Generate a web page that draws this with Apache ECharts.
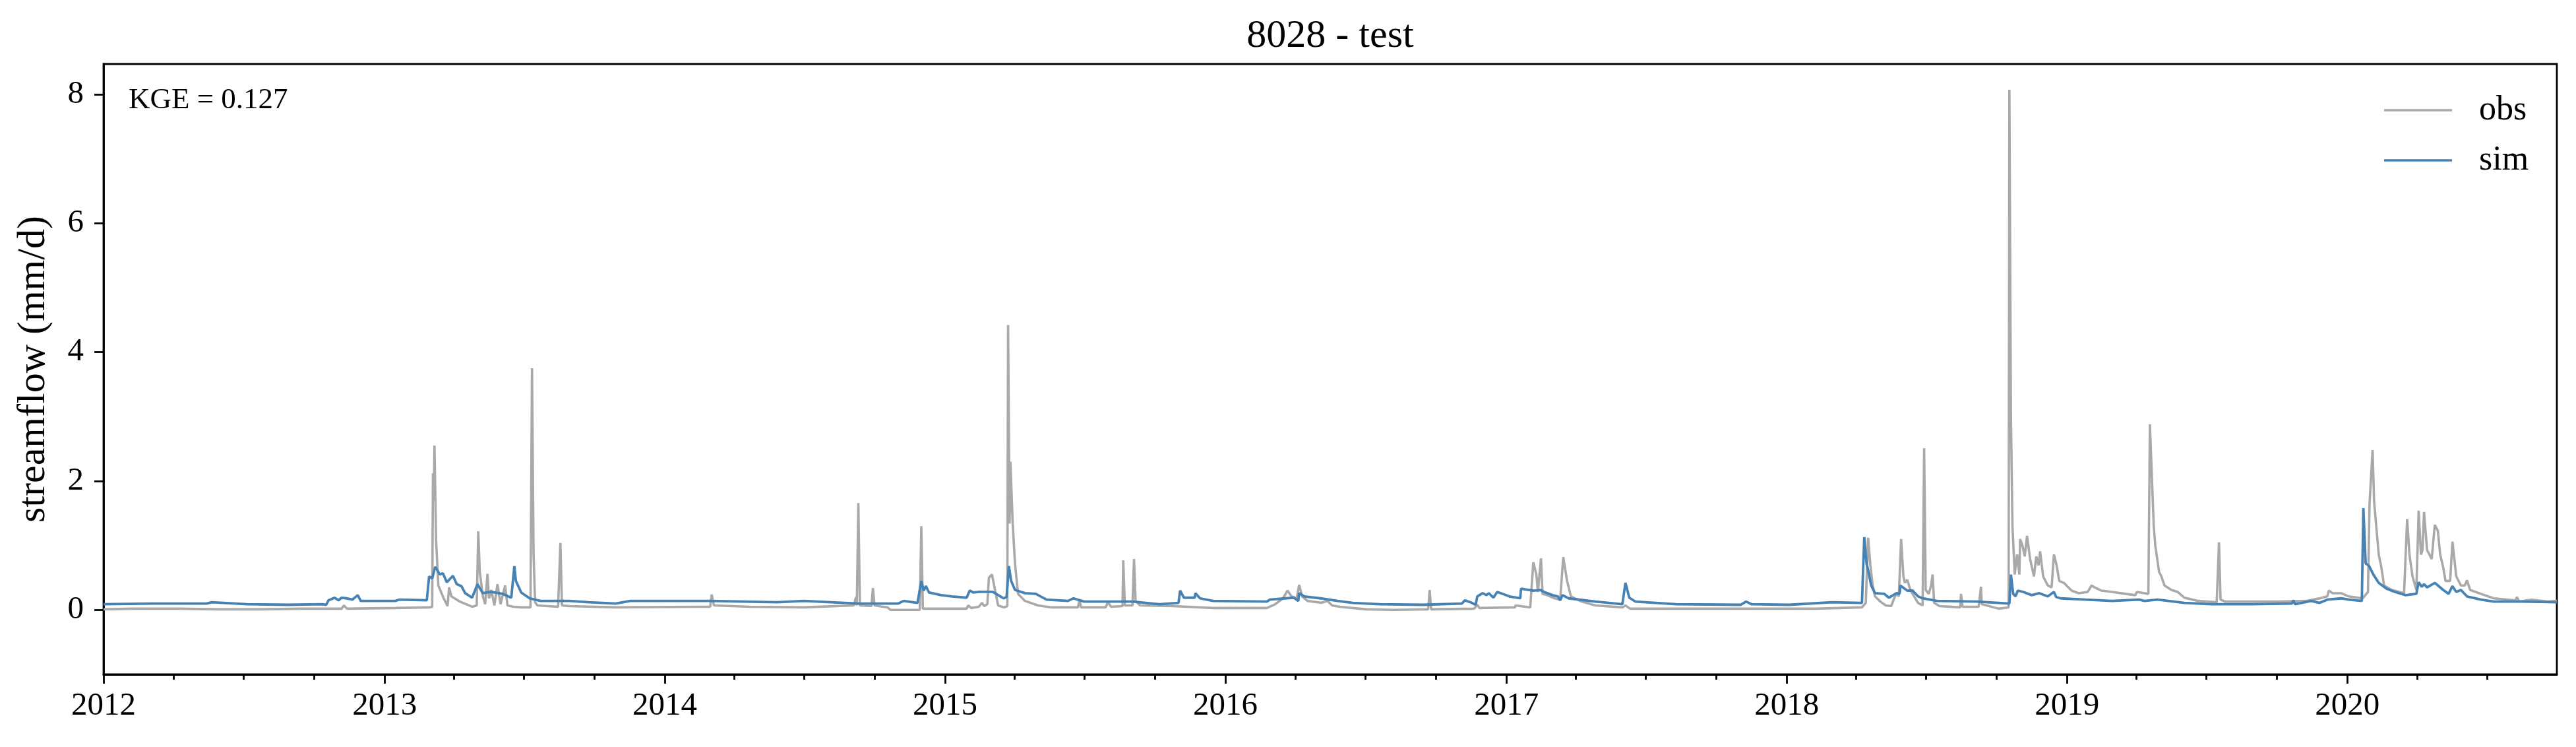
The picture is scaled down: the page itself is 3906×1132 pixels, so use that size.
<!DOCTYPE html>
<html>
<head>
<meta charset="utf-8">
<title>8028 - test</title>
<script src="https://cdn.jsdelivr.net/npm/echarts@6/dist/echarts.min.js"></script>
<style>
html, body { margin: 0; padding: 0; background: #fff; }
#main { width: 3906px; height: 1132px; }
</style>
</head>
<body>
<div id="main"></div>
<script>
// 日数は 2012-01-01 からの経過日数
var yearTicks = [2012, 2013, 2014, 2015, 2016, 2017, 2018, 2019, 2020];
var quarterMonths = [3, 6, 9];
var yTicks = [0, 2, 4, 6, 8];
var kgeText = 'KGE = 0.127';

var obsPts = [
  [0,0.01],[40,0.02],[96,0.02],[150,0.01],[204,0.01],[260,0.02],[310,0.02],[313,0.07],[317,0.02],[380,0.03],
  [425,0.04],[428,0.05],[429,2.12],[430,1.7],[431,2.55],[433,1.1],[436,0.38],[443,0.18],[448,0.06],[450,0.35],
  [453,0.21],[464,0.13],[480,0.05],[486,0.07],[488,1.22],[490,0.59],[494,0.21],[497,0.09],[500,0.56],[502,0.18],
  [505,0.31],[509,0.07],[513,0.40],[517,0.09],[523,0.38],[526,0.07],[534,0.05],[544,0.04],[556,0.04],[558,3.75],
  [560,0.88],[562,0.12],[565,0.07],[592,0.05],[595,1.04],[597,0.07],[607,0.06],[667,0.04],[772,0.05],[790,0.05],
  [792,0.24],[795,0.07],[842,0.05],[912,0.04],[977,0.07],[980,0.2],[981,0.07],[983,1.66],[985,0.07],[1000,0.06],
  [1002,0.34],[1004,0.07],[1021,0.04],[1025,0.0],[1063,0.0],[1065,1.30],[1067,0.02],[1124,0.02],[1126,0.07],[1130,0.03],
  [1140,0.05],[1144,0.11],[1147,0.06],[1151,0.09],[1153,0.5],[1157,0.55],[1161,0.31],[1165,0.07],[1173,0.04],[1177,0.06],
  [1178,4.42],[1180,1.34],[1181,2.30],[1184,1.34],[1187,0.72],[1191,0.25],[1200,0.14],[1217,0.07],[1235,0.04],[1269,0.04],
  [1271,0.16],[1273,0.04],[1305,0.04],[1308,0.12],[1312,0.05],[1327,0.06],[1328,0.77],[1330,0.07],[1340,0.07],[1342,0.79],
  [1344,0.14],[1350,0.07],[1393,0.06],[1445,0.03],[1515,0.03],[1526,0.09],[1536,0.18],[1542,0.30],[1547,0.21],[1554,0.18],
  [1557,0.39],[1561,0.21],[1568,0.14],[1586,0.11],[1594,0.14],[1600,0.07],[1610,0.05],[1645,0.01],[1680,0.0],[1725,0.01],
  [1727,0.31],[1729,0.01],[1785,0.02],[1789,0.08],[1792,0.03],[1838,0.04],[1839,0.07],[1858,0.04],[1862,0.74],[1866,0.55],
  [1868,0.28],[1872,0.80],[1874,0.25],[1880,0.23],[1890,0.18],[1897,0.16],[1901,0.82],[1906,0.45],[1911,0.21],[1925,0.13],
  [1943,0.07],[1978,0.04],[1982,0.07],[1988,0.02],[2139,0.02],[2195,0.02],[2230,0.02],[2290,0.04],[2295,0.11],[2298,1.12],
  [2301,0.69],[2304,0.38],[2307,0.21],[2314,0.13],[2321,0.07],[2328,0.06],[2332,0.18],[2335,0.26],[2338,0.21],[2341,1.10],
  [2344,0.52],[2346,0.42],[2349,0.47],[2353,0.31],[2363,0.11],[2369,0.07],[2371,2.51],[2373,0.31],[2377,0.25],[2380,0.38],
  [2382,0.55],[2384,0.11],[2391,0.06],[2418,0.04],[2419,0.25],[2421,0.05],[2442,0.05],[2445,0.36],[2446,0.09],[2468,0.02],
  [2481,0.04],[2482,8.07],[2484,3.0],[2486,1.3],[2489,0.55],[2492,0.86],[2495,0.55],[2496,1.10],[2499,1.0],[2502,0.83],
  [2505,1.15],[2509,0.79],[2514,0.52],[2517,0.83],[2520,0.69],[2522,0.91],[2526,0.52],[2532,0.38],[2537,0.35],[2540,0.86],
  [2543,0.72],[2547,0.45],[2553,0.42],[2563,0.30],[2572,0.26],[2584,0.28],[2589,0.38],[2593,0.35],[2602,0.30],[2616,0.28],
  [2633,0.25],[2646,0.23],[2648,0.28],[2663,0.25],[2665,2.88],[2670,1.30],[2672,1.0],[2677,0.59],[2680,0.52],[2684,0.38],
  [2693,0.31],[2701,0.28],[2710,0.19],[2728,0.14],[2752,0.12],[2755,1.05],[2757,0.16],[2763,0.13],[2833,0.13],[2868,0.14],
  [2886,0.18],[2896,0.21],[2898,0.30],[2903,0.26],[2914,0.26],[2924,0.21],[2942,0.18],[2949,0.28],[2951,1.64],[2955,2.48],
  [2957,1.68],[2963,0.86],[2966,0.69],[2970,0.38],[2980,0.31],[2996,0.26],[3000,1.41],[3003,0.86],[3007,0.52],[3012,0.31],
  [3015,1.54],[3018,0.86],[3020,0.93],[3022,1.52],[3026,0.93],[3029,0.86],[3032,0.79],[3036,1.32],[3040,1.23],[3043,0.86],
  [3047,0.66],[3050,0.45],[3056,0.45],[3059,1.06],[3064,0.52],[3070,0.38],[3075,0.38],[3078,0.46],[3082,0.31],[3096,0.25],
  [3113,0.18],[3141,0.15],[3143,0.20],[3146,0.13],[3162,0.16],[3183,0.13],[3195,0.14]
];

var simPts = [
  [0,0.09],[64,0.10],[134,0.10],[141,0.12],[187,0.09],[240,0.08],[285,0.09],[290,0.08],[293,0.15],[301,0.19],
  [306,0.15],[310,0.19],[317,0.18],[324,0.16],[331,0.23],[335,0.14],[380,0.14],[385,0.16],[421,0.15],[424,0.52],
  [428,0.49],[432,0.67],[438,0.55],[442,0.57],[447,0.43],[455,0.53],[460,0.40],[466,0.37],[471,0.26],[480,0.19],
  [487,0.40],[494,0.26],[504,0.28],[520,0.25],[531,0.19],[535,0.68],[537,0.45],[544,0.27],[555,0.18],[569,0.14],
  [607,0.14],[632,0.12],[667,0.10],[686,0.14],[790,0.14],[877,0.12],[912,0.14],[983,0.10],[1035,0.10],[1042,0.14],
  [1060,0.11],[1065,0.45],[1068,0.30],[1071,0.37],[1075,0.27],[1091,0.23],[1105,0.21],[1124,0.19],[1128,0.30],[1133,0.27],
  [1140,0.28],[1158,0.28],[1172,0.18],[1176,0.20],[1179,0.68],[1182,0.45],[1187,0.31],[1200,0.26],[1214,0.25],[1228,0.16],
  [1256,0.14],[1263,0.18],[1277,0.13],[1340,0.13],[1375,0.09],[1400,0.11],[1402,0.30],[1407,0.19],[1421,0.19],[1422,0.26],
  [1428,0.18],[1445,0.14],[1515,0.13],[1519,0.16],[1550,0.19],[1556,0.14],[1557,0.26],[1564,0.21],[1585,0.18],[1607,0.14],
  [1627,0.11],[1662,0.09],[1718,0.08],[1769,0.10],[1773,0.15],[1782,0.11],[1787,0.08],[1789,0.21],[1796,0.26],[1801,0.23],
  [1804,0.26],[1810,0.19],[1815,0.28],[1831,0.21],[1845,0.18],[1846,0.33],[1862,0.30],[1871,0.31],[1876,0.28],[1887,0.23],
  [1894,0.21],[1897,0.15],[1900,0.23],[1908,0.18],[1943,0.13],[1978,0.09],[1982,0.42],[1987,0.19],[1995,0.13],[2048,0.09],
  [2132,0.08],[2139,0.13],[2146,0.09],[2195,0.08],[2251,0.12],[2290,0.11],[2293,1.13],[2296,0.72],[2298,0.62],[2302,0.38],
  [2307,0.26],[2319,0.25],[2325,0.19],[2335,0.26],[2339,0.25],[2340,0.38],[2349,0.30],[2356,0.30],[2363,0.21],[2369,0.18],
  [2388,0.14],[2440,0.13],[2482,0.10],[2484,0.55],[2487,0.25],[2490,0.21],[2493,0.30],[2500,0.28],[2511,0.23],[2521,0.26],
  [2532,0.21],[2540,0.28],[2543,0.20],[2549,0.18],[2581,0.16],[2616,0.14],[2651,0.16],[2658,0.14],[2675,0.16],[2710,0.11],
  [2745,0.09],[2798,0.09],[2850,0.10],[2852,0.15],[2854,0.09],[2875,0.14],[2886,0.11],[2896,0.16],[2914,0.18],[2924,0.16],
  [2941,0.14],[2943,1.58],[2946,0.72],[2950,0.69],[2956,0.55],[2963,0.42],[2973,0.33],[2984,0.28],[2998,0.23],[3012,0.25],
  [3015,0.43],[3019,0.36],[3022,0.40],[3026,0.35],[3036,0.42],[3047,0.31],[3054,0.25],[3059,0.37],[3064,0.28],[3070,0.31],
  [3078,0.21],[3096,0.16],[3113,0.13],[3149,0.13],[3195,0.12]
];

var serifFont = '"Liberation Serif", "DejaVu Serif", serif';

function dayToTime(d)
{
	return new Date(2012, 0, 1 + d).getTime();
}
function toSeries(pts)
{
	return pts.map(function (p) { return [dayToTime(p[0]), p[1]]; });
}

var xMin = new Date(2012, 0, 1).getTime();
var xMax = new Date(2020, 8, 30).getTime();
var yearValues = yearTicks.map(function (y) { return new Date(y, 0, 1).getTime(); });
var quarterValues = [];
yearTicks.forEach(function (y) {
	quarterMonths.forEach(function (m) {
		var t = new Date(y, m, 1).getTime();
		if (t <= xMax) quarterValues.push(t);
	});
});

var myChart = echarts.init(document.getElementById('main'), null, {renderer: 'canvas'});
myChart.setOption({
	animation: false,
	backgroundColor: '#fff',
	grid: {
		left: 157, right: 29, top: 97, bottom: 110,
		show: true, borderColor: '#000', borderWidth: 2.8, backgroundColor: 'transparent'
	},
	graphic: [
		{
			type: 'text', x: 2017, y: 55,
			style: { text: '8028 - test', font: '60px ' + serifFont, fill: '#000', align: 'center', verticalAlign: 'middle' }
		},
		{
			type: 'text', x: 195, y: 152,
			style: { text: kgeText, font: '45px ' + serifFont, fill: '#000', align: 'left', verticalAlign: 'middle' }
		}
	],
	legend: {
		data: ['obs', 'sim'],
		orient: 'vertical',
		left: 3610, top: 136,
		icon: 'rect',
		itemWidth: 103, itemHeight: 3.5, itemGap: 24,
		textStyle: { fontFamily: serifFont, fontSize: 52, color: '#000', lineHeight: 52, padding: [0, 0, 0, 36] }
	},
	xAxis: [
		{
			// 時刻値（ミリ秒）をそのまま数値軸に載せる
			type: 'value', min: xMin, max: xMax, position: 'bottom',
			axisLine: { onZero: false, lineStyle: { color: '#000', width: 2.8 } },
			axisTick: { show: true, length: 14, lineStyle: { color: '#000', width: 2.8 }, customValues: yearValues },
			axisLabel: {
				customValues: yearValues, margin: 24, color: '#000', fontFamily: serifFont, fontSize: 49,
				formatter: function (v) { return String(new Date(v).getFullYear()); }
			},
			splitLine: { show: false }
		},
		{
			type: 'value', min: xMin, max: xMax, position: 'bottom',
			axisLine: { show: false, onZero: false },
			axisTick: { show: true, length: 8, lineStyle: { color: '#000', width: 2.8 }, customValues: quarterValues },
			axisLabel: { show: false },
			splitLine: { show: false }
		}
	],
	yAxis: {
		type: 'value', min: -1, max: 8.47,
		name: 'streamflow (mm/d)', nameLocation: 'middle', nameGap: 76,
		nameTextStyle: { fontFamily: serifFont, fontSize: 60, color: '#000' },
		axisLine: { show: true, lineStyle: { color: '#000', width: 2.8 } },
		axisTick: { show: true, length: 14, lineStyle: { color: '#000', width: 2.8 }, customValues: yTicks },
		axisLabel: { customValues: yTicks, margin: 30, color: '#000', fontFamily: serifFont, fontSize: 49 },
		splitLine: { show: false }
	},
	series: [
		{
			name: 'obs', type: 'line', xAxisIndex: 0, symbol: 'none',
			lineStyle: { color: '#a9a9a9', width: 3.6 }, itemStyle: { color: '#a9a9a9' },
			data: toSeries(obsPts)
		},
		{
			name: 'sim', type: 'line', xAxisIndex: 0, symbol: 'none',
			lineStyle: { color: '#4682b4', width: 3.8 }, itemStyle: { color: '#4682b4' },
			data: toSeries(simPts)
		}
	]
});
</script>
</body>
</html>
